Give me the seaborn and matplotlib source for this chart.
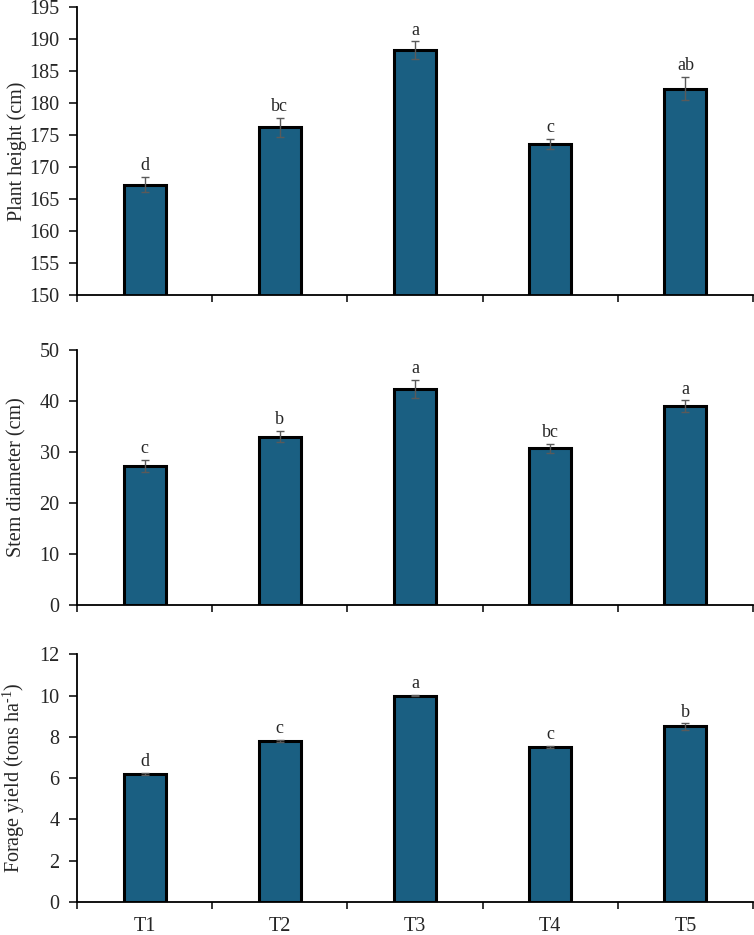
import numpy as np
import matplotlib
matplotlib.use("Agg")
import matplotlib.pyplot as plt
import seaborn as sns
import pandas as pd

treatments = ["T1", "T2", "T3", "T4", "T5"]

plant_height = [167.3, 176.3, 188.3, 173.7, 182.3]
plant_height_err = [1.2, 1.5, 1.4, 0.8, 1.8]
plant_height_letters = ["d", "bc", "a", "c", "ab"]

stem_diameter = [27.3, 33.0, 42.3, 30.7, 39.0]
stem_diameter_err = [1.2, 1.1, 1.8, 0.9, 1.1]
stem_diameter_letters = ["c", "b", "a", "bc", "a"]

forage_yield = [6.2, 7.8, 10.0, 7.5, 8.5]
forage_yield_err = [0.05, 0.05, 0.03, 0.05, 0.15]
forage_yield_letters = ["d", "c", "a", "c", "b"]

sns.set_style("ticks")
plt.rcParams["font.family"] = ["Liberation Serif", "DejaVu Serif"]
plt.rcParams["mathtext.fontset"] = "custom"
plt.rcParams["mathtext.rm"] = "Liberation Serif"

BAR_COLOR = "#1a5f82"
ERR_COLOR = "#5a5a5a"

fig = plt.figure(figsize=(7.54, 9.35), dpi=100)

panels = [
    # (values, errors, letters, ylabel, ylim, ystep, axes rect)
    (plant_height, plant_height_err, plant_height_letters, "Plant height (cm)",
     (150, 195), 5, [0.1021, 0.684, 0.8966, 0.308]),
    (stem_diameter, stem_diameter_err, stem_diameter_letters, "Stem diameter (cm)",
     (0, 50), 10, [0.1021, 0.353, 0.8966, 0.2727]),
    (forage_yield, forage_yield_err, forage_yield_letters,
     "Forage yield (tons ha$^{\\mathrm{\u2010}1}$)",
     (0, 12), 2, [0.1021, 0.0353, 0.8966, 0.265]),
]

for i, (vals, errs, letters, ylabel, ylim, ystep, rect) in enumerate(panels):
    ax = fig.add_axes(rect)
    data = pd.DataFrame({"treatment": treatments, "value": vals})
    sns.barplot(
        data=data,
        x="treatment",
        y="value",
        color=BAR_COLOR,
        saturation=1,
        width=0.31,
        edgecolor="black",
        linewidth=2.2,
        errorbar=None,
        ax=ax,
    )
    pos = np.arange(len(treatments))
    ax.errorbar(pos, vals, yerr=errs, fmt="none", ecolor=ERR_COLOR,
                elinewidth=1.0, capsize=3, capthick=1.0, zorder=5)
    for p, v, e, lab in zip(pos, vals, errs, letters):
        ax.annotate(lab, (p, v + e), xytext=(0, 2), textcoords="offset points",
                    ha="center", va="bottom", fontsize=13)

    ax.set_ylim(*ylim)
    ax.set_xlim(-0.5, len(treatments) - 0.5)
    ax.set_yticks(np.arange(ylim[0], ylim[1] + ystep / 2, ystep))
    ax.tick_params(axis="y", labelsize=14.5, length=5.5, width=1.3, direction="out", pad=7)

    # boundary ticks as major, category labels as minor
    ax.set_xticks(np.arange(-0.5, len(treatments), 1.0))
    ax.set_xticklabels([])
    ax.tick_params(axis="x", which="major", length=5, width=1.3, direction="out")
    ax.set_xticks(pos, minor=True)
    if i == 2:
        ax.set_xticklabels(treatments, minor=True)
    else:
        ax.set_xticklabels([""] * len(treatments), minor=True)
    ax.tick_params(axis="x", which="minor", length=0, labelsize=14.5, pad=11)

    ax.set_xlabel("")
    ax.set_ylabel(ylabel, fontsize=14.5)
    ax.yaxis.set_label_coords(-0.074, 0.5)
    sns.despine(ax=ax)
    for s in ["left", "bottom"]:
        ax.spines[s].set_linewidth(1.3)
        ax.spines[s].set_color("black")

fig.savefig("out.png", dpi=100)
